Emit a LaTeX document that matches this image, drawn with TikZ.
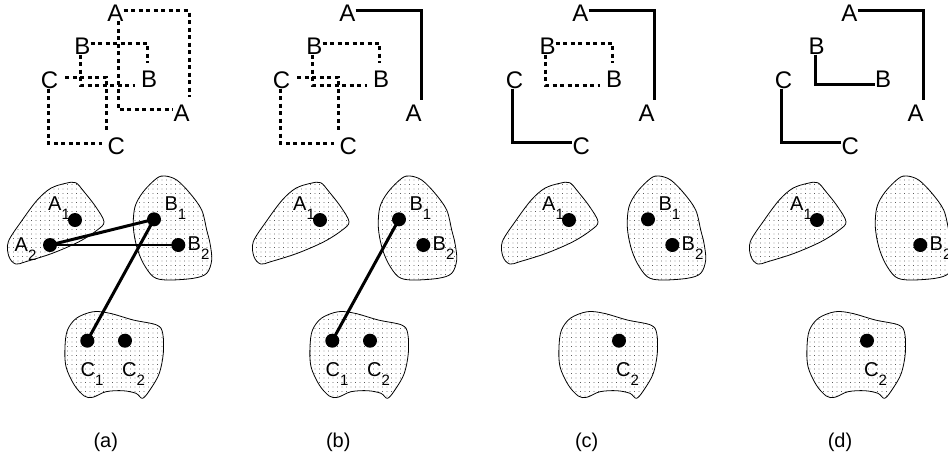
\documentclass[tikz,border=0pt]{standalone}
\usepackage{fontspec}
\setmainfont{Liberation Sans}
\usetikzlibrary{patterns.meta}
\tikzset{
 toplbl/.style={inner sep=0pt, font=\fontsize{24}{24}\selectfont},
 sublbl/.style={inner sep=0pt, anchor=base west, font=\fontsize{20}{20}\selectfont},
 caption/.style={inner sep=0pt, font=\fontsize{20}{20}\selectfont},
 dotl/.style={line width=3pt, dash pattern=on 4pt off 3.5pt},
 solidl/.style={line width=3pt},
 blob/.style={draw=black, line width=0.8pt, pattern={Dots[distance=4.5pt,radius=0.45pt]}, pattern color=black},
 pt/.style={circle, fill=black, inner sep=0pt, minimum size=14pt},
 link/.style={line width=3pt},
}
\newcommand\lsub[1]{\raisebox{-9pt}{\fontsize{15}{15}\selectfont #1}}
\newcommand\TopLabels[2]{%
 \begin{scope}[shift={(#2,0)}]
 \node[toplbl] (#1At) at (115.3,12.8) {A};
 \node[toplbl] (#1Ab) at (181.7,112.8) {A};
 \node[toplbl] (#1Bt) at (82.5,46.2) {B};
 \node[toplbl] (#1Bb) at (149.2,79.5) {B};
 \node[toplbl] (#1Ct) at (49.5,80) {C};
 \node[toplbl] (#1Cb) at (116.2,145.8) {C};
 \coordinate (#1Ae) at (189.3,97.3);
 \coordinate (#1As) at (189.3,100);
 \coordinate (#1Be) at (147.7,63.3);
 \coordinate (#1Bd) at (135,85);
 \coordinate (#1Ce) at (106,130);
 \coordinate (#1Cd) at (101.7,143.3);
 \end{scope}}
\newcommand\Blobs[1]{%
 \begin{scope}[shift={(#1,0)}]
 \draw[blob] plot[smooth cycle, tension=0.55] coordinates {(8.3,241.7) (22.3,220) (37.3,200) (50.7,188.3) (65.7,183.3) (75.7,182.7) (84,191.7) (95.7,206.7) (104,221.7) (97.3,230) (79,241.7) (52.3,253.3) (25.7,261.7) (15.7,264) (9,256.7)};
 \draw[blob] plot[smooth cycle, tension=0.55] coordinates {(133.3,226.7) (135,206.7) (143.3,191.7) (156.7,178.3) (165,176) (176.7,180) (190,193.3) (201.7,210) (206.7,230) (210,243.3) (211.7,260) (206.7,273.3) (193.3,278.3) (166.7,280) (153.3,276.7) (143.3,263.3) (136.7,246.7)};
 \draw[blob] plot[smooth cycle, tension=0.55] coordinates {(65,346.7) (67.5,330) (76.7,318) (93.3,311.7) (110,313.3) (133.3,320) (156.7,325) (162.7,333.3) (163.3,353.3) (159.3,373.3) (151,388.3) (142.7,398.3) (136,393.3) (122.7,390.7) (106,391.7) (92.7,397.3) (84.3,396) (74.3,385) (66,366.7)};
 \end{scope}}
\begin{document}
\begin{tikzpicture}[x=1pt,y=-1pt]
\useasboundingbox (0,0) rectangle (948,459);
% ---------- top rows ----------
\TopLabels{a}{0}
\TopLabels{b}{232}
\TopLabels{c}{465}
\TopLabels{d}{734}
% (a)
\draw[dotl] ([yshift=2pt]aAt.east) -| (aAe);
\draw[dotl] ([xshift=3pt]aAt.south) |- ([yshift=3pt]aAb.west);
\draw[dotl] ([yshift=3pt]aBt.east) -| (aBe);
\draw[dotl] ([xshift=-2pt]aBt.south) |- (aBd);
\draw[dotl] ([xshift=7pt,yshift=3pt]aCt.east) -| (aCe);
\draw[dotl] ([xshift=-1pt]aCt.south) |- (aCd);
% (b)
\draw[solidl] ([yshift=2pt]bAt.east) -| (bAs);
\draw[dotl] ([yshift=3pt]bBt.east) -| (bBe);
\draw[dotl] ([xshift=-2pt]bBt.south) |- (bBd);
\draw[dotl] ([xshift=7pt,yshift=3pt]bCt.east) -| (bCe);
\draw[dotl] ([xshift=-1pt]bCt.south) |- (bCd);
% (c)
\draw[solidl] ([yshift=2pt]cAt.east) -| (cAs);
\draw[dotl] ([yshift=3pt]cBt.east) -| (cBe);
\draw[dotl] ([xshift=-2pt]cBt.south) |- (cBd);
\draw[solidl] ([xshift=-2pt]cCt.south) |- ([yshift=3pt]cCb.west);
% (d)
\draw[solidl] ([yshift=2pt]dAt.east) -| (dAs);
\draw[solidl] ([xshift=-1.5pt]dBt.south) |- ([yshift=-5pt]dBb.west);
\draw[solidl] ([xshift=-2pt]dCt.south) |- ([yshift=3pt]dCb.west);
% ---------- bottom rows ----------
\Blobs{0}
\Blobs{245}
\Blobs{494}
\Blobs{742}
% (a)
\node[pt] (aA1) at (75,220) {};
\node[pt] (aA2) at (50,245) {};
\node[pt] (aB1) at (154,219.3) {};
\node[pt] (aB2) at (178.3,245) {};
\node[pt] (aC1) at (87.3,340.7) {};
\node[pt] (aC2) at (125,340.7) {};
\node[sublbl] (aA1l) at (48,210) {A\lsub{1}};
\node[sublbl] (aA2l) at (14.5,251.7) {A\lsub{2}};
\node[sublbl] (aB1l) at (164.3,210) {B\lsub{1}};
\node[sublbl] (aB2l) at (187.5,250.7) {B\lsub{2}};
\node[sublbl] (aC1l) at (80.5,376.7) {C\lsub{1}};
\node[sublbl] (aC2l) at (122,376.7) {C\lsub{2}};
\draw[link] (aA2.center) -- (aB1.center);
\draw[link, line width=2.5pt] (aA2.center) -- (aB2.center);
\draw[link] (aB1.center) -- (aC1.center);
\node[caption] (capa) at (105.8,442) {(a)};
% (b)
\begin{scope}[shift={(245,0)}]
\node[pt] (bA1) at (75,220) {};
\node[pt] (bB1) at (154,219.3) {};
\node[pt] (bB2) at (178.3,245) {};
\node[pt] (bC1) at (87.3,340.7) {};
\node[pt] (bC2) at (125,340.7) {};
\node[sublbl] (bA1l) at (48,210) {A\lsub{1}};
\node[sublbl] (bB1l) at (164.3,210) {B\lsub{1}};
\node[sublbl] (bB2l) at (187.5,250.7) {B\lsub{2}};
\node[sublbl] (bC1l) at (80.5,376.7) {C\lsub{1}};
\node[sublbl] (bC2l) at (122,376.7) {C\lsub{2}};
\end{scope}
\draw[link] (bB1.center) -- (bC1.center);
\node[caption] (capb) at (338.3,442) {(b)};
% (c)
\begin{scope}[shift={(494,0)}]
\node[pt] (cA1) at (75,220) {};
\node[pt] (cB1) at (154,219.3) {};
\node[pt] (cB2) at (178.3,245) {};
\node[pt] (cC2) at (125,340.7) {};
\node[sublbl] (cA1l) at (48,210) {A\lsub{1}};
\node[sublbl] (cB1l) at (164.3,210) {B\lsub{1}};
\node[sublbl] (cB2l) at (187.5,250.7) {B\lsub{2}};
\node[sublbl] (cC2l) at (122,376.7) {C\lsub{2}};
\end{scope}
\node[caption] (capc) at (586.7,442) {(c)};
% (d)
\begin{scope}[shift={(742,0)}]
\node[pt] (dA1) at (75,220) {};
\node[pt] (dB2) at (178.3,245) {};
\node[pt] (dC2) at (125,340.7) {};
\node[sublbl] (dA1l) at (48,210) {A\lsub{1}};
\node[sublbl] (dB2l) at (187.5,250.7) {B\lsub{2}};
\node[sublbl] (dC2l) at (122,376.7) {C\lsub{2}};
\end{scope}
\node[caption] (capd) at (840,442) {(d)};
\end{tikzpicture}
\end{document}
